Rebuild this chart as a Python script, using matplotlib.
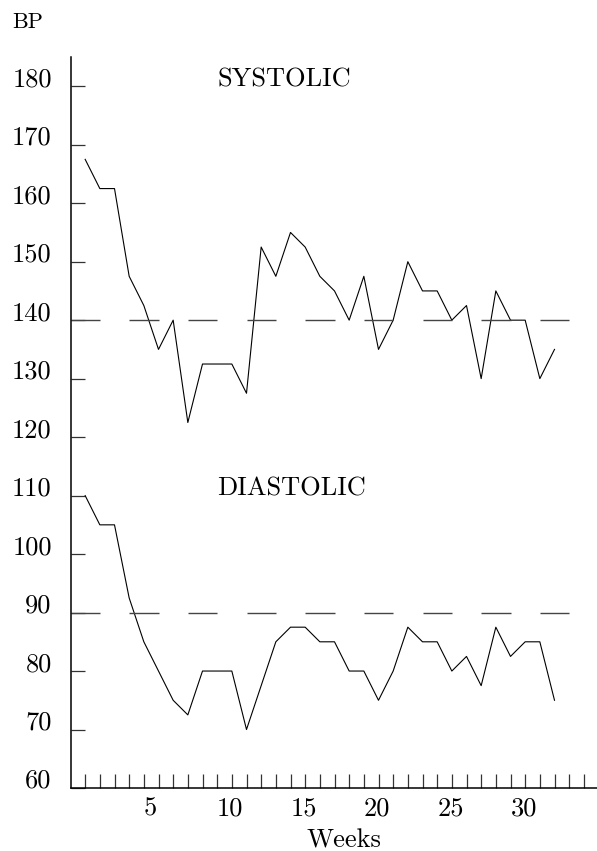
import matplotlib
matplotlib.use("Agg")
import matplotlib.pyplot as plt
import numpy as np

# weekly blood pressure readings
weeks = np.arange(1, 34)
systolic = [167.5, 162.5, 162.5, 147.5, 142.5, 135, 140, 122.5, 132.5, 132.5, 132.5, 127.5,
            152.5, 147.5, 155, 152.5, 147.5, 145, 140, 147.5, 135, 140, 150, 145, 145,
            140, 142.5, 130, 145, 140, 140, 130, 135]
diastolic = [110, 105, 105, 92.5, 85, 80, 75, 72.5, 80, 80, 80, 70,
             77.5, 85, 87.5, 87.5, 85, 85, 80, 80, 75, 80, 87.5, 85, 85,
             80, 82.5, 77.5, 87.5, 82.5, 85, 85, 75]
ref_levels = [140, 90]
ytick_vals = list(range(60, 190, 10))
xtick_vals = list(range(1, 36))
xtick_labels = [str(w) if w % 5 == 0 and w <= 30 else "" for w in xtick_vals]

plt.rcParams["font.family"] = ["cmr10", "DejaVu Serif"]
plt.rcParams["axes.formatter.use_mathtext"] = True

W, H = 597, 851
fig = plt.figure(figsize=(W / 100, H / 100), dpi=100)
ax = fig.add_axes([70.5 / W, 63 / H, 528 / W, 731 / H])

ax.plot(weeks, systolic, color="black", lw=0.8)
ax.plot(weeks, diastolic, color="black", lw=0.8)

# long dashes: 2 weeks on, 2 weeks off
starts = np.arange(0, 34, 4)
for lvl in ref_levels:
    ax.hlines([lvl] * len(starts), starts, starts + 2, color="#444444", lw=1.0)

ax.text(10, 180, "SYSTOLIC", fontsize=19, va="baseline", ha="left")
ax.text(10, 110, "DIASTOLIC", fontsize=19, va="baseline", ha="left")

ax.set_xlim(0, 36)
ax.set_ylim(60, 185)
for s in ["top", "right"]:
    ax.spines[s].set_visible(False)
for s in ["left", "bottom"]:
    ax.spines[s].set_linewidth(1.1)

ax.set_yticks(ytick_vals)
ax.set_yticklabels([str(v) for v in ytick_vals])
ax.set_xticks(xtick_vals)
ax.set_xticklabels(xtick_labels)
ax.tick_params(axis="y", direction="in", length=10, width=0.9, color="#333333",
               labelsize=19, pad=13.5)
ax.tick_params(axis="x", direction="in", length=10, width=0.9, color="#333333",
               labelsize=19, pad=6.5)
plt.setp(ax.get_yticklabels(), va="baseline")
plt.setp(ax.get_xticklabels(), ha="left")

fig.text(12.7 / W, 1 - 28 / H, "BP", fontsize=16, va="baseline", ha="left")
fig.text(306.7 / W, 1 - 847 / H, "Weeks", fontsize=19, va="baseline", ha="left")

fig.savefig("out.png", dpi=100)
